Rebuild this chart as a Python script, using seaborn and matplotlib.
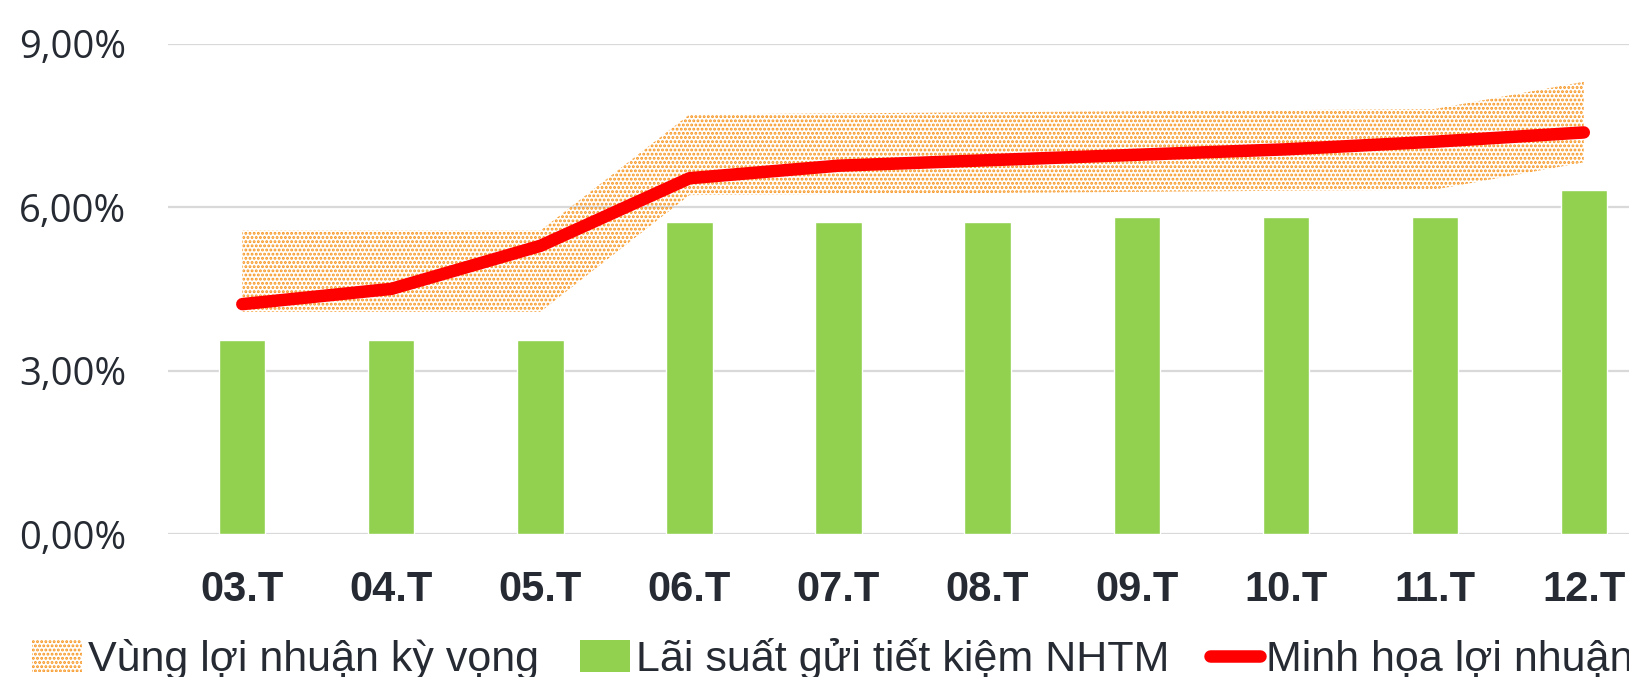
import numpy as np
import pandas as pd
from matplotlib import pyplot as plt
from matplotlib.patches import Patch
from matplotlib.lines import Line2D
from matplotlib.ticker import FuncFormatter
import seaborn as sns

months = ["03.T", "04.T", "05.T", "06.T", "07.T", "08.T", "09.T", "10.T", "11.T", "12.T"]
deposit_rate = [3.57, 3.57, 3.57, 5.72, 5.72, 5.72, 5.82, 5.82, 5.82, 6.32]
profit_line = [4.22, 4.50, 5.29, 6.53, 6.76, 6.86, 6.96, 7.06, 7.20, 7.37]
band_upper = [5.57, 5.57, 5.57, 7.70, 7.72, 7.74, 7.76, 7.78, 7.80, 8.30]
band_lower = [4.08, 4.08, 4.08, 6.22, 6.24, 6.26, 6.28, 6.30, 6.32, 6.82]

green = "#92d050"
red = "#ff0000"
orange = "#f7941d"
text_col = "#262b33"

sns.set_theme(style="white")
plt.rcParams["font.family"] = ["Open Sans", "DejaVu Sans"]
plt.rcParams["hatch.linewidth"] = 1.4

df = pd.DataFrame({"month": months, "rate": deposit_rate})
pos = np.arange(len(months))

fig = plt.figure(figsize=(16.29, 6.77), dpi=100)
ax = fig.add_axes([0.103, 0.211, 0.915, 0.7246])

# expected profit zone, dotted fill
ax.fill_between(pos, band_lower, band_upper, facecolor="none", edgecolor=orange,
                hatch="....", linewidth=0, zorder=1)
sns.barplot(data=df, x="month", y="rate", color=green, width=0.31,
            saturation=1, ax=ax, zorder=2)
sns.lineplot(x=pos, y=profit_line, color=red, linewidth=9, ax=ax,
             solid_capstyle="round", zorder=3)

ax.set_ylim(0, 9)
ax.set_xlim(-0.5, len(months) - 0.5)
ax.set_yticks([0, 3, 6, 9])
ax.yaxis.set_major_formatter(FuncFormatter(lambda v, p: f"{v:.2f}%".replace(".", ",")))
ax.grid(axis="y", color="#d9d9d9", linewidth=1.6)
ax.set_axisbelow(True)
for s in ax.spines.values():
    s.set_visible(False)
ax.set_xlabel("")
ax.set_ylabel("")
ax.tick_params(axis="y", length=0, pad=30, labelsize=27.5, labelcolor=text_col)
ax.tick_params(axis="x", length=0, pad=26, labelsize=30, labelcolor=text_col)
for t in ax.get_xticklabels():
    t.set_fontfamily(["Liberation Sans", "DejaVu Sans"])
    t.set_fontweight("bold")

handles = [
    Patch(facecolor="white", edgecolor=orange, hatch="....", linewidth=0),
    Patch(facecolor=green, edgecolor="none"),
    Line2D([0], [0], color=red, linewidth=9, solid_capstyle="round"),
]
labels = ["Vùng lợi nhuận kỳ vọng", "Lãi suất gửi tiết kiệm NHTM", "Minh họa lợi nhuận"]
leg = fig.legend(handles, labels, loc="lower left", bbox_to_anchor=(-0.004, -0.062),
                 ncol=3, frameon=False, handlelength=1.15, handleheight=0.75,
                 handletextpad=0.15, columnspacing=0.95,
                 prop={"family": ["Liberation Sans", "DejaVu Sans"], "size": 31})
for t in leg.get_texts():
    t.set_color(text_col)

fig.savefig("out.png", dpi=100)
